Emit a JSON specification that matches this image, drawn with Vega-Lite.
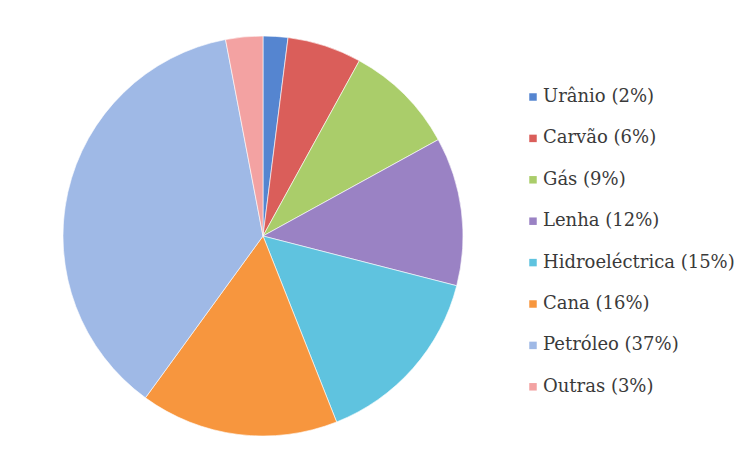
{
  "$schema": "https://vega.github.io/schema/vega-lite/v6.json",
  "width": 526,
  "height": 446,
  "autosize": "none",
  "padding": {"left": 0, "top": 13, "right": 224, "bottom": 0},
  "background": "white",
  "view": {"stroke": null},
  "data": {
    "values": [
      {"ord": 1, "fonte": "Urânio (2%)", "pct": 2},
      {"ord": 2, "fonte": "Carvão (6%)", "pct": 6},
      {"ord": 3, "fonte": "Gás (9%)", "pct": 9},
      {"ord": 4, "fonte": "Lenha (12%)", "pct": 12},
      {"ord": 5, "fonte": "Hidroeléctrica (15%)", "pct": 15},
      {"ord": 6, "fonte": "Cana (16%)", "pct": 16},
      {"ord": 7, "fonte": "Petróleo (37%)", "pct": 37},
      {"ord": 8, "fonte": "Outras (3%)", "pct": 3}
    ]
  },
  "mark": {"type": "arc", "outerRadius": 200, "stroke": "white", "strokeWidth": 0.6},
  "encoding": {
    "theta": {"field": "pct", "type": "quantitative", "stack": true},
    "order": {"field": "ord", "type": "quantitative"},
    "color": {
      "field": "fonte",
      "type": "nominal",
      "scale": {
        "domain": ["Urânio (2%)", "Carvão (6%)", "Gás (9%)", "Lenha (12%)", "Hidroeléctrica (15%)", "Cana (16%)", "Petróleo (37%)", "Outras (3%)"],
        "range": ["#5585D0", "#DA5E5A", "#AACD6A", "#9A82C4", "#5FC3DF", "#F7963E", "#9FB9E6", "#F3A2A2"]
      },
      "legend": {
        "title": null,
        "orient": "none",
        "legendX": 524,
        "legendY": 75,
        "symbolType": "square",
        "symbolSize": 56,
        "symbolStrokeWidth": 0,
        "labelFont": "DejaVu Serif",
        "labelFontSize": 18,
        "labelColor": "#3a3a3a",
        "labelOffset": 1,
        "rowPadding": 23.4,
        "labelLimit": 300
      }
    }
  }
}
